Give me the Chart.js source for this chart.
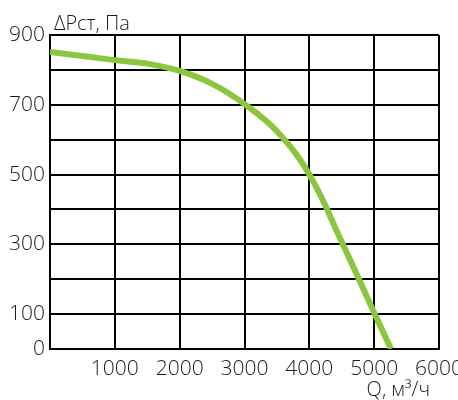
<!DOCTYPE html>
<html>
<head>
<meta charset="utf-8">
<script src="https://cdn.jsdelivr.net/npm/chart.js@4"></script>
<style>
  html, body { margin: 0; padding: 0; background: #fff; }
  #box { width: 458px; height: 400px; }
</style>
</head>
<body>
<div id="box"><canvas id="myChart"></canvas></div>
<script>
'use strict';
// flow, m3/h and static pressure, Pa
let flowQ = [0, 500, 1000, 1500, 2000, 2500, 3000, 3500, 4000, 4500, 5000, 5260];
let pressure = [851, 840, 828, 818, 797, 760, 702, 624, 500, 307, 104, 0];
let yLabels = [900, 700, 500, 300, 100, 0];
let xLabels = [1000, 2000, 3000, 4000, 5000, 6000];
let yTitle = 'ΔPст, Па';
let xTitle = 'Q, м³/ч';

let fontName = '"Open Sans", sans-serif';
let textColor = '#1b1b1b';

let points = [];
for (let i = 0; i < flowQ.length; i++) {
    points.push({ x: flowQ[i], y: pressure[i] });
}

// axis captions
let captions = {
    id: 'captions',
    afterDraw(chart) {
        let ctx = chart.ctx;
        let area = chart.chartArea;
        ctx.save();
        ctx.fillStyle = textColor;
        ctx.font = '300 20px ' + fontName;
        ctx.textBaseline = 'alphabetic';
        ctx.textAlign = 'left';
        ctx.fillText(yTitle, area.left + 4, area.top - 5);
        ctx.textAlign = 'right';
        ctx.fillText(xTitle, area.right - 9, 396);
        ctx.restore();
    }
};

let ctx = document.getElementById('myChart').getContext('2d');
let myChart = new Chart(ctx, {
    type: 'line',
    data: {
        datasets: [{
            data: points,
            borderColor: '#8cc63f',
            borderWidth: 6,
            pointRadius: 0,
            tension: 0.4,
            fill: false
        }]
    },
    options: {
        responsive: true,
        maintainAspectRatio: false,
        animation: false,
        layout: { padding: { top: 35, right: 19, left: 0, bottom: 0 } },
        plugins: { legend: { display: false }, tooltip: { enabled: false } },
        scales: {
            x: {
                type: 'linear',
                min: 0,
                max: 6000,
                grid: { color: '#000', lineWidth: 2, drawTicks: false },
                border: { color: '#000', width: 2 },
                ticks: {
                    stepSize: 1000,
                    padding: 7,
                    color: textColor,
                    font: { family: fontName, size: 21, weight: 300 },
                    callback: (v) => xLabels.includes(v) ? String(v) : ''
                },
                afterFit(scale) {
                    scale.height = 51;
                    scale.paddingLeft = 0;
                    scale.paddingRight = 0;
                }
            },
            y: {
                min: 0,
                max: 900,
                grid: { color: '#000', lineWidth: 2, drawTicks: false },
                border: { color: '#000', width: 2 },
                ticks: {
                    stepSize: 100,
                    padding: 5,
                    autoSkip: false,
                    color: textColor,
                    font: { family: fontName, size: 21, weight: 300 },
                    callback: (v) => yLabels.includes(v) ? String(v) : ''
                },
                afterFit(scale) {
                    scale.width = 50;
                }
            }
        }
    },
    plugins: [captions]
});
</script>
</body>
</html>
